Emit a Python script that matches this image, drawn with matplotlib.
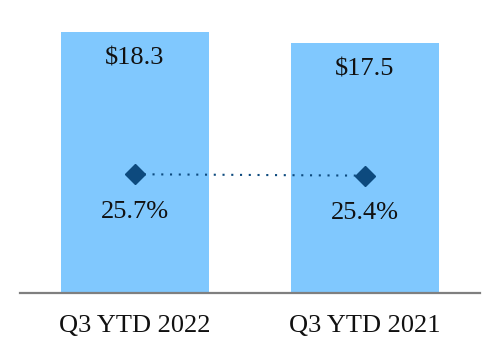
import matplotlib.pyplot as plt

# data
categories = ["Q3 YTD 2022", "Q3 YTD 2021"]
revenue = [18.3, 17.5]            # $ bars
margin = [25.7, 25.4]             # % markers
revenue_labels = ["$18.3", "$17.5"]
margin_labels = ["25.7%", "25.4%"]

plt.rcParams['font.family'] = ['Liberation Serif', 'DejaVu Serif']

fig = plt.figure(figsize=(5, 3.6), dpi=100)
ax = fig.add_axes([0.04, 0.186, 0.92, 0.814])

x = list(range(len(categories)))
bars = ax.bar(x, revenue, width=0.64, color='#80c8fe', zorder=1)

ax.set_xlim(-0.5, 1.5)
ax.set_ylim(0, 20.55)

# value labels inside bar tops
for xi, v, lab in zip(x, revenue, revenue_labels):
    ax.annotate(lab, (xi, v), xytext=(0, -19), textcoords='offset points',
                ha='center', va='center', fontsize=19, color='#111111')

# margin on secondary axis (wide range keeps the line nearly flat)
ax2 = ax.twinx()
ax2.set_ylim(0, 63.4)
ax2.plot(x, margin, linestyle=(0, (1, 3.2)), color='#0d4a7e', linewidth=1.5,
         marker='D', markersize=10, zorder=3)
for xi, v, lab in zip(x, margin, margin_labels):
    ax2.annotate(lab, (xi, v), xytext=(0, -27), textcoords='offset points',
                 ha='center', va='center', fontsize=19, color='#111111')

for a in (ax, ax2):
    for s in ('top', 'right', 'left'):
        a.spines[s].set_visible(False)
    a.set_yticks([])
ax2.spines['bottom'].set_visible(False)
ax.spines['bottom'].set_color('#7f7f7f')
ax.spines['bottom'].set_linewidth(1.6)

ax.set_xticks(x)
ax.set_xticklabels(categories, fontsize=19, color='#111111')
ax.tick_params(axis='x', length=0, pad=16)

fig.savefig('out.png', dpi=100)
